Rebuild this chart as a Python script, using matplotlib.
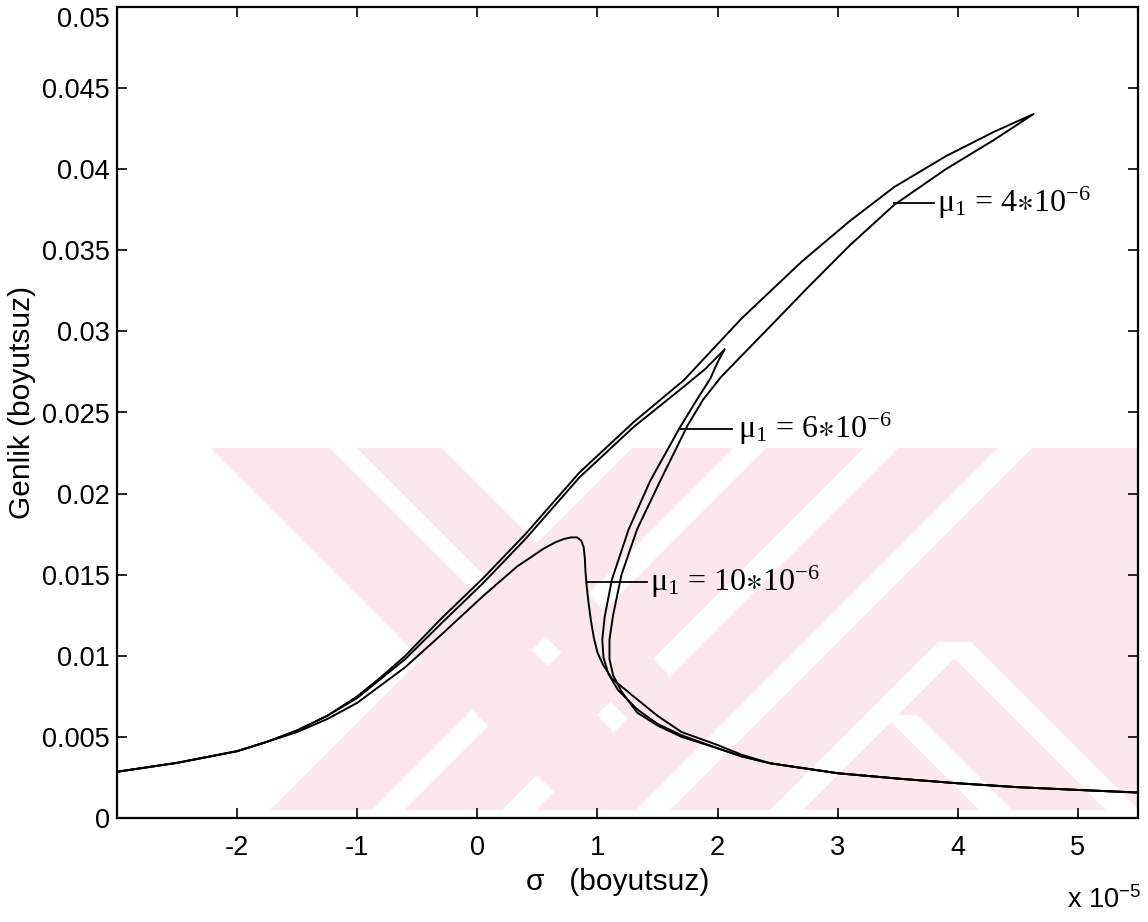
import numpy as np
import matplotlib
matplotlib.use("Agg")
import matplotlib.pyplot as plt
from matplotlib.patches import Polygon, Rectangle

plt.rcParams['font.family'] = ['Liberation Sans', 'DejaVu Sans']
plt.rcParams['axes.unicode_minus'] = False
plt.rcParams['mathtext.fontset'] = 'stix'
plt.rcParams['mathtext.default'] = 'regular'

# sigma values in units of 1e-5, amplitude (genlik) values
sig_mu4 = [-3.0, -2.5, -2.0, -1.75, -1.5, -1.25, -1.0, -0.8, -0.6, -0.3, 0.05, 0.4, 0.85, 1.3, 1.72, 2.2, 2.7, 3.1, 3.47, 3.9, 4.3, 4.63,
           4.3, 3.9, 3.47, 3.1, 2.75, 2.45, 2.2, 2.03, 1.88, 1.75, 1.53, 1.33, 1.2, 1.13, 1.10, 1.10, 1.13, 1.2, 1.33, 1.5, 1.7, 2.0,
           2.2, 2.44, 3.0, 3.5, 4.0, 4.5, 5.0, 5.5]
amp_mu4 = [0.00285, 0.0034, 0.00412, 0.0047, 0.0054, 0.0063, 0.0075, 0.0087, 0.0100, 0.0123, 0.0148, 0.0175, 0.0213, 0.0244, 0.0270, 0.0308, 0.0343, 0.0368, 0.0389, 0.0408, 0.0423, 0.0434,
           0.0418, 0.0400, 0.0378, 0.0353, 0.0327, 0.0304, 0.0285, 0.0272, 0.0258, 0.0242, 0.0209, 0.0178, 0.0150, 0.0125, 0.0110, 0.0098, 0.0088, 0.0078, 0.0065, 0.0057, 0.0050, 0.0043,
           0.0038, 0.00337, 0.00276, 0.00243, 0.00214, 0.0019, 0.00173, 0.00157]

sig_mu6 = [-3.0, -2.5, -2.0, -1.75, -1.5, -1.25, -1.0, -0.8, -0.6, -0.3, 0.05, 0.4, 0.85, 1.3, 1.72, 1.9, 2.06,
           2.0, 1.94, 1.82, 1.68, 1.44, 1.26, 1.12, 1.06, 1.04, 1.05, 1.09, 1.17, 1.33, 1.5, 1.7, 2.0,
           2.2, 2.44, 3.0, 3.5, 4.0, 4.5, 5.0, 5.5]
amp_mu6 = [0.00285, 0.0034, 0.00412, 0.0047, 0.0054, 0.0063, 0.0074, 0.0086, 0.0098, 0.0120, 0.0145, 0.0172, 0.0210, 0.0241, 0.0266, 0.0277, 0.0289,
           0.0281, 0.0271, 0.0257, 0.0240, 0.0208, 0.0178, 0.0147, 0.0124, 0.0110, 0.0099, 0.0089, 0.0079, 0.0067, 0.0058, 0.0051, 0.0043,
           0.0038, 0.00337, 0.00276, 0.00243, 0.00214, 0.0019, 0.00173, 0.00157]

sig_mu10 = [-3.0, -2.5, -2.0, -1.75, -1.5, -1.25, -1.0, -0.8, -0.6, -0.3, 0.05, 0.33, 0.55, 0.65, 0.72, 0.78, 0.83, 0.865, 0.885, 0.895, 0.90, 0.91,
            0.925, 0.945, 0.97, 1.0, 1.05, 1.12, 1.3, 1.5, 1.7, 2.0, 2.2, 2.44, 3.0, 3.5, 4.0, 4.5, 5.0, 5.5]
amp_mu10 = [0.00285, 0.0034, 0.00412, 0.0047, 0.0053, 0.0061, 0.0071, 0.0082, 0.0093, 0.0113, 0.0137, 0.0155, 0.0166, 0.0170, 0.0172, 0.0173, 0.0173, 0.0171, 0.0167, 0.0160, 0.0152, 0.0143,
            0.0133, 0.0122, 0.0111, 0.0102, 0.0094, 0.0086, 0.0075, 0.0063, 0.0053, 0.0045, 0.0039, 0.00337, 0.00276, 0.00243, 0.00214, 0.0019, 0.00173, 0.00157]

xticks = [-2, -1, 0, 1, 2, 3, 4, 5]
yticks = [0, 0.005, 0.01, 0.015, 0.02, 0.025, 0.03, 0.035, 0.04, 0.045, 0.05]
ytick_labels = ['0', '0.005', '0.01', '0.015', '0.02', '0.025', '0.03', '0.035', '0.04', '0.045', '0.05']

# label: mu value, leader line start/end (sigma), y, text x
labels = [
    ('4', 3.47, 3.80, 0.0379, 3.83),
    ('6', 1.68, 2.12, 0.0240, 2.17),
    ('10', 0.91, 1.41, 0.01457, 1.44),
]

fig = plt.figure(figsize=(11.48, 9.22), dpi=100)
ax = fig.add_axes([117/1148, 1 - 818/922, 1021/1148, 811/922])

# background watermark (pink stripes), given in pixel coords of the axes box
def px(pts):
    return [((x - 117) / 1021, (818 - y) / 811) for x, y in pts]

pink = '#fce8ec'
band = Rectangle(px([(117, 810)])[0], 1.0, (810 - 448) / 811, transform=ax.transAxes, fc='none', ec='none')
ax.add_patch(band)
pink_shapes = [
    [(210, 448), (330, 448), (692, 810), (572, 810)],
    [(357, 448), (442, 448), (804, 810), (719, 810)],
    [(270, 810), (372, 810), (734, 448), (632, 448)],
    [(404, 810), (502, 810), (864, 448), (766, 448)],
    [(536, 810), (1138, 810), (1138, 448), (898, 448)],
]
white_shapes = [
    [(636, 810), (670, 810), (1032, 448), (998, 448)],
    [(770, 810), (803, 810), (971, 642), (938, 642)],
    [(938, 642), (971, 642), (1139, 810), (1106, 810)],
    [(884, 715), (917, 715), (1012, 810), (979, 810)],
]
for shp in pink_shapes:
    p = Polygon(px(shp), closed=True, transform=ax.transAxes, fc=pink, ec='none', zorder=0)
    ax.add_patch(p)
    p.set_clip_path(band)
for shp in white_shapes:
    p = Polygon(px(shp), closed=True, transform=ax.transAxes, fc='white', ec='none', zorder=0.5)
    ax.add_patch(p)
    p.set_clip_path(band)

ax.plot(sig_mu4, amp_mu4, color='black', lw=1.4, zorder=2)
ax.plot(sig_mu6, amp_mu6, color='black', lw=1.4, zorder=2)
ax.plot(sig_mu10, amp_mu10, color='black', lw=1.4, zorder=2)

for mu, x0, x1, y, xt in labels:
    ax.plot([x0, x1], [y, y], color='black', lw=1.3, zorder=2)
    ax.text(xt, y, r'$\mu_1$ = ' + mu + r'$\mathrm{\ast}$' + r'10$^{-6}$', fontsize=23,
            family='Liberation Serif', va='center', ha='left')

ax.set_xlim(-3, 5.5)
ax.set_ylim(0, 0.05)
ax.set_xticks(xticks)
ax.set_xticklabels([str(t) for t in xticks])
ax.set_yticks(yticks)
ax.set_yticklabels(ytick_labels)
ax.tick_params(direction='in', top=True, right=True, length=7, width=1.2, labelsize=19.5)
ax.tick_params(axis='x', pad=12)
ax.tick_params(axis='y', pad=5)
ax.yaxis.get_major_ticks()[-1].label1.set_verticalalignment('top')
for s in ax.spines.values():
    s.set_linewidth(1.6)

ax.set_xlabel('\u03c3   (boyutsuz)', fontsize=21.5, va='center')
ax.xaxis.set_label_coords(0.49, -0.079)
ax.set_ylabel('Genlik (boyutsuz)', fontsize=21.5, va='center')
ax.yaxis.set_label_coords(-0.093, 0.512)
ax.text(0.93, -0.111, r'x 10$^{-5}$', transform=ax.transAxes, fontsize=19.5, va='baseline', ha='left')

fig.savefig('out.png', dpi=100)
